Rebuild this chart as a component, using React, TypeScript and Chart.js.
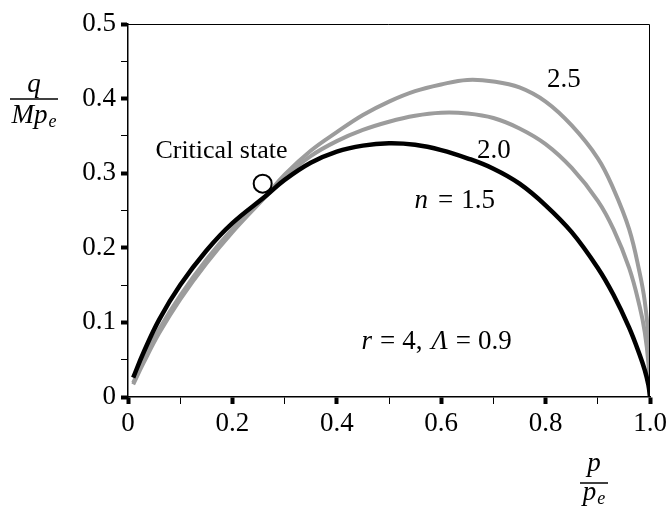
import React, { useEffect, useRef } from 'react';
import { Chart, registerables } from 'chart.js';

Chart.register(...registerables);

// p / p_e positions sampled along the yield curves
const pRatio = [
  0.01, 0.03, 0.06, 0.1, 0.15, 0.2, 0.265, 0.3, 0.35, 0.4, 0.45, 0.5, 0.55,
  0.6, 0.65, 0.7, 0.75, 0.8, 0.85, 0.9, 0.93, 0.96, 0.98, 0.99, 0.997, 1.0,
];

// q / (M p_e) for shape parameter n = 1.5
const qN15 = [
  0.026, 0.06, 0.104, 0.15, 0.196, 0.233, 0.27, 0.291, 0.314, 0.329, 0.337,
  0.34, 0.338, 0.331, 0.32, 0.306, 0.286, 0.257, 0.221, 0.173, 0.137, 0.093,
  0.057, 0.036, 0.016, 0,
];

// q / (M p_e) for n = 2.0
const qN20 = [
  0.019, 0.05, 0.091, 0.136, 0.184, 0.225, 0.27, 0.295, 0.323, 0.343, 0.358,
  0.369, 0.377, 0.381, 0.38, 0.374, 0.36, 0.339, 0.307, 0.263, 0.225, 0.173,
  0.122, 0.087, 0.045, 0,
];

// q / (M p_e) for n = 2.5
const qN25 = [
  0.017, 0.046, 0.086, 0.131, 0.179, 0.221, 0.27, 0.298, 0.33, 0.355, 0.378,
  0.396, 0.41, 0.419, 0.425, 0.423, 0.415, 0.396, 0.364, 0.32, 0.279, 0.225,
  0.167, 0.128, 0.078, 0,
];

// critical state point
const criticalP = [0.258];
const criticalQ = [0.286];

const xTickValues = [0, 0.1, 0.2, 0.3, 0.4, 0.5, 0.6, 0.7, 0.8, 0.9, 1.0];
const xTickLabels = ['0', '', '0.2', '', '0.4', '', '0.6', '', '0.8', '', '1.0'];
const yTickValues = [0, 0.05, 0.1, 0.15, 0.2, 0.25, 0.3, 0.35, 0.4, 0.45, 0.5];
const yTickLabels = ['0', '', '0.1', '', '0.2', '', '0.3', '', '0.4', '', '0.5'];

const SERIF = "'Liberation Serif', 'Times New Roman', serif";
const BLACK = '#000000';
const GREY = '#9c9c9c';

type Run = { t: string; italic?: boolean; size?: number; dy?: number; gap?: number };

const fontOf = (r: Run, base: number) =>
  `${r.italic ? 'italic ' : ''}${r.size ?? base}px ${SERIF}`;

function runsWidth(ctx: CanvasRenderingContext2D, runs: Run[], base: number) {
  let w = 0;
  runs.forEach((r) => {
    ctx.font = fontOf(r, base);
    w += ctx.measureText(r.t).width + (r.gap ?? 0);
  });
  return w;
}

function drawRuns(
  ctx: CanvasRenderingContext2D,
  runs: Run[],
  x: number,
  baseline: number,
  align: 'left' | 'center' | 'right',
  base = 27
) {
  const w = runsWidth(ctx, runs, base);
  let cx = align === 'left' ? x : align === 'center' ? x - w / 2 : x - w;
  ctx.textAlign = 'left';
  ctx.textBaseline = 'alphabetic';
  runs.forEach((r) => {
    ctx.font = fontOf(r, base);
    ctx.fillText(r.t, cx, baseline + (r.dy ?? 0));
    cx += ctx.measureText(r.t).width + (r.gap ?? 0);
  });
}

// curve labels, anchored in data units (p/p_e, q/Mp_e) at the text baseline
const notes: { runs: Run[]; p: number; q: number; align: 'left' | 'center' | 'right'; size: number }[] = [
  { runs: [{ t: 'Critical state' }], p: 0.179, q: 0.321, align: 'center', size: 26 },
  { runs: [{ t: '2.5' }], p: 0.835, q: 0.415, align: 'center', size: 27 },
  { runs: [{ t: '2.0' }], p: 0.701, q: 0.321, align: 'center', size: 27 },
  {
    runs: [{ t: 'n', italic: true, gap: 10 }, { t: '=', gap: 8 }, { t: '1.5' }],
    p: 0.549, q: 0.254, align: 'left', size: 27,
  },
  {
    runs: [
      { t: 'r', italic: true, gap: 8 },
      { t: '=', gap: 7 },
      { t: '4,', gap: 9 },
      { t: 'Λ', italic: true, gap: 8 },
      { t: '=', gap: 7 },
      { t: '0.9' },
    ],
    p: 0.735, q: 0.064, align: 'right', size: 27,
  },
];

function drawFraction(
  ctx: CanvasRenderingContext2D,
  cx: number,
  lineY: number,
  lineW: number,
  num: Run[],
  numBase: number,
  den: Run[],
  denBase: number
) {
  drawRuns(ctx, num, cx, numBase, 'center');
  drawRuns(ctx, den, cx, denBase, 'center');
  ctx.lineWidth = 1.5;
  ctx.strokeStyle = BLACK;
  ctx.beginPath();
  ctx.moveTo(cx - lineW / 2, lineY);
  ctx.lineTo(cx + lineW / 2, lineY);
  ctx.stroke();
}

const overlay = {
  id: 'overlay',
  afterDraw(chart: Chart) {
    const { ctx, chartArea: a } = chart;
    const xs = chart.scales.x;
    const ys = chart.scales.y;
    ctx.save();
    // top and right frame lines
    ctx.strokeStyle = BLACK;
    ctx.lineWidth = 1;
    ctx.beginPath();
    ctx.moveTo(a.left, a.top + 0.5);
    ctx.lineTo(a.right - 0.5, a.top + 0.5);
    ctx.lineTo(a.right - 0.5, a.bottom);
    ctx.stroke();

    ctx.fillStyle = BLACK;
    notes.forEach((n) => {
      drawRuns(ctx, n.runs, xs.getPixelForValue(n.p), ys.getPixelForValue(n.q), n.align, n.size);
    });

    // y-axis title: q / (M p_e)
    drawFraction(
      ctx, 34, 99, 48,
      [{ t: 'q', italic: true }], 92,
      [{ t: 'M', italic: true }, { t: 'p', italic: true, gap: 1 }, { t: 'e', italic: true, size: 18, dy: 4 }], 123
    );
    // x-axis title: p / p_e
    drawFraction(
      ctx, 594, 483, 28,
      [{ t: 'p', italic: true }], 471,
      [{ t: 'p', italic: true, gap: 1 }, { t: 'e', italic: true, size: 18, dy: 4 }], 500
    );
    ctx.restore();
  },
};

const series = (q: number[]) => pRatio.map((p, i) => ({ x: p, y: q[i] }));

export default function App() {
  const ref = useRef<HTMLCanvasElement | null>(null);

  useEffect(() => {
    if (!ref.current) return;
    const tickFont = { family: SERIF, size: 27 };
    const curve = { pointRadius: 0, tension: 0.4 };
    const chart = new Chart(ref.current, {
      type: 'line',
      data: {
        datasets: [
          {
            label: 'Critical state',
            data: criticalP.map((p, i) => ({ x: p, y: criticalQ[i] })),
            showLine: false,
            pointRadius: 9,
            pointBorderWidth: 2,
            pointBorderColor: BLACK,
            pointBackgroundColor: 'rgba(0,0,0,0)',
          },
          { label: 'n = 1.5', data: series(qN15), borderColor: BLACK, borderWidth: 4.5, ...curve },
          { label: 'n = 2.0', data: series(qN20), borderColor: GREY, borderWidth: 4, ...curve },
          { label: 'n = 2.5', data: series(qN25), borderColor: GREY, borderWidth: 4, ...curve },
        ],
      },
      options: {
        responsive: false,
        animation: false,
        layout: { padding: { left: 0, top: 24, right: 18, bottom: 0 } },
        plugins: { legend: { display: false }, tooltip: { enabled: false } },
        scales: {
          x: {
            type: 'linear',
            min: 0,
            max: 1,
            afterBuildTicks: (s: any) => {
              s.ticks = xTickValues.map((v) => ({ value: v }));
            },
            afterFit: (s: any) => {
              s.height = 110;
              s.paddingLeft = 0;
              s.paddingRight = 0;
            },
            ticks: {
              callback: (_v: any, i: number) => xTickLabels[i],
              font: tickFont,
              color: BLACK,
              padding: 4,
              maxRotation: 0,
              autoSkip: false,
            },
            grid: {
              drawOnChartArea: false,
              drawTicks: true,
              tickLength: 7,
              tickColor: BLACK,
              tickWidth: (c: any) => (c.index % 2 === 0 ? 4 : 1),
            },
            border: { color: BLACK, width: 1.5 },
          },
          y: {
            type: 'linear',
            min: 0,
            max: 0.5,
            afterBuildTicks: (s: any) => {
              s.ticks = yTickValues.map((v) => ({ value: v }));
            },
            afterFit: (s: any) => {
              s.width = 128;
              s.paddingTop = 0;
              s.paddingBottom = 0;
            },
            ticks: {
              callback: (_v: any, i: number) => yTickLabels[i],
              font: tickFont,
              color: BLACK,
              padding: 5,
              autoSkip: false,
            },
            grid: {
              drawOnChartArea: false,
              drawTicks: true,
              tickLength: 7,
              tickColor: BLACK,
              tickWidth: (c: any) => (c.index % 2 === 0 ? 4 : 1),
            },
            border: { color: BLACK, width: 1.5 },
          },
        },
      },
      plugins: [overlay],
    } as any);
    return () => chart.destroy();
  }, []);

  return (
    <div style={{ position: 'absolute', left: 0, top: 0, width: 668, height: 507, background: '#fff' }}>
      <canvas ref={ref} width={668} height={507} style={{ display: 'block' }} />
    </div>
  );
}
